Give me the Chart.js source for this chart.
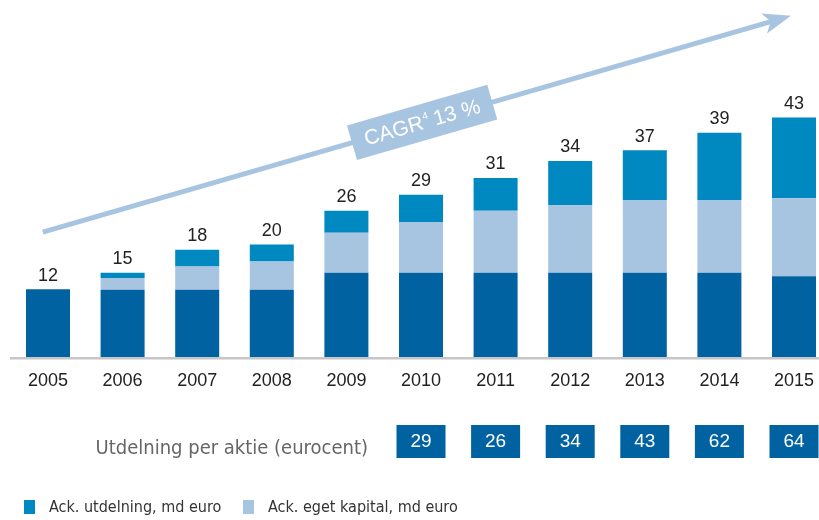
<!DOCTYPE html>
<html>
<head>
<meta charset="utf-8">
<script src="https://cdn.jsdelivr.net/npm/chart.js@4/dist/chart.umd.min.js"></script>
<style>
  body { margin: 0; background: #fff; }
  canvas { display: block; }
</style>
</head>
<body>
<canvas id="js-chart-kapital" width="819" height="520"></canvas>
<script>
// Data (md euro)
const years = ["2005", "2006", "2007", "2008", "2009", "2010", "2011", "2012", "2013", "2014", "2015"];
const baseCapital = [12.0, 11.9, 11.9, 11.9, 14.9, 14.9, 14.9, 14.9, 14.9, 14.9, 14.3];
const equityAdded = [0, 2.1, 4.1, 5.0, 7.1, 9.0, 11.0, 12.0, 12.9, 12.9, 13.8];
const dividendsAcc = [0, 0.9, 3.0, 3.0, 3.9, 4.8, 5.8, 7.8, 8.8, 11.9, 14.3];
const totalLabels = [12, 15, 18, 20, 26, 29, 31, 34, 37, 39, 43];

// Utdelning per aktie (eurocent)
const dpsYears = ["2010", "2011", "2012", "2013", "2014", "2015"];
const dpsValues = [29, 26, 34, 43, 62, 64];

// CAGR arrow, in scale units (category index, value)
const arrowFrom = { x: -0.07, y: 22.1 };
const arrowTo = { x: 9.96, y: 60.4 };
const cagrText = "13 %";

const DARK = "#0062a1";
const MID = "#0088c0";
const LIGHT = "#a7c4e0";
const NARROW = "'Liberation Sans Narrow', 'DejaVu Sans Condensed', 'Liberation Sans', sans-serif";
const SANS = "'Liberation Sans', Arial, sans-serif";

const extras = {
    id: "extras",
    afterDatasetsDraw(chart) {
        const ctx = chart.ctx;
        const x = chart.scales.x;
        const y = chart.scales.y;
        const base = y.getPixelForValue(0);
        ctx.save();

        // baseline
        ctx.fillStyle = "#c6c6c6";
        ctx.fillRect(10, base, chart.width - 10, 2.5);

        // year labels
        ctx.fillStyle = "#222";
        ctx.font = "18px " + SANS;
        ctx.textAlign = "center";
        ctx.textBaseline = "middle";
        years.forEach((yr, i) => ctx.fillText(yr, x.getPixelForValue(i), base + 24));

        // totals above the bars
        const top = chart.getDatasetMeta(2).data;
        ctx.textBaseline = "alphabetic";
        totalLabels.forEach((v, i) => ctx.fillText(String(v), x.getPixelForValue(i), top[i].y - 8.5));

        // arrow
        const x0 = x.getPixelForValue(arrowFrom.x), y0 = y.getPixelForValue(arrowFrom.y);
        const x1 = x.getPixelForValue(arrowTo.x), y1 = y.getPixelForValue(arrowTo.y);
        const ang = Math.atan2(y1 - y0, x1 - x0);
        const len = Math.hypot(x1 - x0, y1 - y0);
        ctx.translate(x0, y0);
        ctx.rotate(ang);
        ctx.fillStyle = LIGHT;
        ctx.fillRect(0, -2.5, len - 20, 5);
        ctx.beginPath();
        ctx.moveTo(len, 0);
        ctx.lineTo(len - 28, -10.5);
        ctx.lineTo(len - 21, 0);
        ctx.lineTo(len - 28, 10.5);
        ctx.closePath();
        ctx.fill();

        // CAGR box in the middle of the arrow
        ctx.translate(len * 0.507, 0);
        ctx.fillRect(-73, -18, 146, 36);
        ctx.fillStyle = "#fff";
        ctx.textAlign = "left";
        ctx.textBaseline = "middle";
        ctx.font = "21px " + SANS;
        const wA = ctx.measureText("CAGR").width;
        const wB = ctx.measureText(" " + cagrText).width;
        ctx.font = "10px " + SANS;
        const wS = ctx.measureText("4").width;
        let tx = -(wA + wS + wB) / 2;
        ctx.font = "21px " + SANS;
        ctx.fillText("CAGR", tx, 1);
        ctx.font = "10px " + SANS;
        ctx.fillText("4", tx + wA + 1, -5);
        ctx.font = "21px " + SANS;
        ctx.fillText(" " + cagrText, tx + wA + wS, 1);
        ctx.setTransform(1, 0, 0, 1, 0, 0);

        // Utdelning per aktie row
        ctx.fillStyle = "#666";
        ctx.font = "20px " + NARROW;
        ctx.textAlign = "right";
        ctx.fillText("Utdelning per aktie (eurocent)", 368, 449);
        dpsYears.forEach((yr, k) => {
            const cx = x.getPixelForValue(years.indexOf(yr));
            ctx.fillStyle = DARK;
            ctx.fillRect(cx - 24.5, 425, 49, 33);
            ctx.fillStyle = "#fff";
            ctx.font = "19px " + SANS;
            ctx.textAlign = "center";
            ctx.fillText(String(dpsValues[k]), cx, 442);
        });

        // legend (only the two named series)
        ctx.font = "16px " + NARROW;
        ctx.textAlign = "left";
        let lx = 24;
        [2, 1].forEach((d) => {
            const ds = chart.data.datasets[d];
            ctx.fillStyle = ds.backgroundColor;
            ctx.fillRect(lx, 500, 11, 14);
            ctx.fillStyle = "#333";
            ctx.fillText(ds.label, lx + 25, 508);
            lx = 243;
        });
        ctx.restore();
    }
};

document.addEventListener("DOMContentLoaded", function() {
    const element = document.getElementById("js-chart-kapital");
    new Chart(element, {
        type: "bar",
        data: {
            labels: years,
            datasets: [
                { label: "Kapital", data: baseCapital, backgroundColor: DARK, clip: false },
                { label: "Ack. eget kapital, md euro", data: equityAdded, backgroundColor: LIGHT, clip: false },
                { label: "Ack. utdelning, md euro", data: dividendsAcc, backgroundColor: MID, clip: false }
            ]
        },
        options: {
            responsive: false,
            animation: false,
            datasets: { bar: { categoryPercentage: 1, barPercentage: 0.59 } },
            layout: { padding: { left: 48, right: 25, top: 74.5, bottom: 163 } },
            scales: {
                x: { stacked: true, display: false, offset: false },
                y: { stacked: true, display: false, min: 0, max: 50 }
            },
            plugins: {
                legend: { display: false },
                tooltip: { enabled: false }
            }
        },
        plugins: [extras]
    });
});
</script>
</body>
</html>
